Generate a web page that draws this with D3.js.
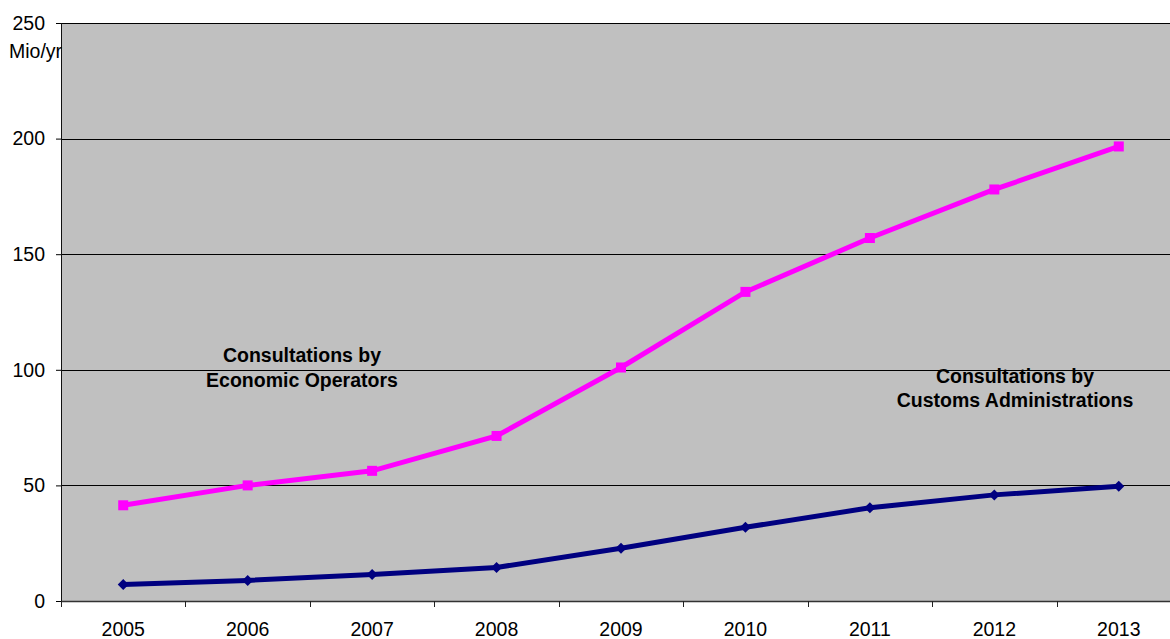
<!DOCTYPE html>
<html>
<head>
<meta charset="utf-8">
<script src="https://cdn.jsdelivr.net/npm/d3@7"></script>
<style>
  body { margin: 0; background: #fff; }
  text { font-family: "Liberation Sans", Arial, sans-serif; }
</style>
</head>
<body>
<svg id="chart"></svg>
<script>
var years = ["2005", "2006", "2007", "2008", "2009", "2010", "2011", "2012", "2013"];
var economicOperators = [41.4, 50.0, 56.3, 71.4, 101.0, 133.7, 157.0, 178.0, 196.6];
var customsAdmins = [7.1, 8.9, 11.5, 14.5, 22.8, 31.9, 40.3, 45.9, 49.6];
var yTicks = [0, 50, 100, 150, 200, 250];

var margin = {top: 23, right: 0, bottom: 38, left: 61},
    width = 1120,
    height = 639 - margin.top - margin.bottom;

var svg = d3.select("#chart")
  .attr("width", 1170)
  .attr("height", 639);

var g = svg.append("g")
  .attr("transform", "translate(" + margin.left + "," + margin.top + ")");

var x = d3.scaleBand().domain(years).range([0, width]);
var y = d3.scaleLinear().domain([0, 250]).range([height, 0]);

// plot background
g.append("rect")
  .attr("x", 0.5).attr("y", 0.5)
  .attr("width", width)
  .attr("height", height)
  .attr("fill", "#c0c0c0");

// gridlines
g.selectAll(".grid")
  .data(yTicks.filter(function(d) { return d > 0; }))
  .enter().append("line")
  .attr("x1", 0).attr("x2", width)
  .attr("y1", function(d) { return Math.round(y(d)) + 0.5; })
  .attr("y2", function(d) { return Math.round(y(d)) + 0.5; })
  .attr("stroke", "#000")
  .attr("stroke-width", 1);

// y axis
var yAxis = g.append("g")
  .call(d3.axisLeft(y).tickValues(yTicks).tickSize(5).tickPadding(11));
yAxis.select(".domain").attr("stroke", "#111");
yAxis.selectAll("text").style("font-size", "19.5px").attr("fill", "#000");

// x axis with ticks at band edges
var xAxis = g.append("g")
  .attr("transform", "translate(0," + height + ")")
  .call(d3.axisBottom(x).tickSize(0).tickPadding(21));
xAxis.select(".domain").attr("stroke", "#333").attr("stroke-width", 1.5);
xAxis.selectAll("text").style("font-size", "19.5px").attr("fill", "#000");
xAxis.selectAll(".edge")
  .data(d3.range(years.length + 1))
  .enter().append("line")
  .attr("x1", function(i) { return Math.round(i * x.step()) + 0.5; })
  .attr("x2", function(i) { return Math.round(i * x.step()) + 0.5; })
  .attr("y1", 0).attr("y2", 6)
  .attr("stroke", "#222");

// unit label
svg.append("text")
  .attr("x", 9).attr("y", 57.5)
  .style("font-size", "19.5px")
  .text("Mio/yr");

var line = d3.line()
  .x(function(d, i) { return x(years[i]) + x.bandwidth() / 2; })
  .y(function(d) { return y(d); });

// economic operators
g.append("path")
  .datum(economicOperators)
  .attr("fill", "none")
  .attr("stroke", "#ff00ff")
  .attr("stroke-width", 5)
  .attr("d", line);
g.selectAll(".sq")
  .data(economicOperators)
  .enter().append("rect")
  .attr("x", function(d, i) { return x(years[i]) + x.bandwidth() / 2 - 5; })
  .attr("y", function(d) { return y(d) - 5; })
  .attr("width", 10).attr("height", 10)
  .attr("fill", "#ff00ff");

// customs administrations
g.append("path")
  .datum(customsAdmins)
  .attr("fill", "none")
  .attr("stroke", "#000080")
  .attr("stroke-width", 5)
  .attr("d", line);
g.selectAll(".dia")
  .data(customsAdmins)
  .enter().append("path")
  .attr("transform", function(d, i) {
    return "translate(" + (x(years[i]) + x.bandwidth() / 2) + "," + y(d) + ")";
  })
  .attr("d", "M0,-5.5L5.5,0L0,5.5L-5.5,0Z")
  .attr("fill", "#000080");

// annotations
function label(cx, lines, top, gap) {
  svg.append("g").selectAll("text")
    .data(lines)
    .enter().append("text")
    .attr("x", cx)
    .attr("y", function(d, i) { return top + i * gap; })
    .attr("text-anchor", "middle")
    .style("font-size", "19.5px")
    .style("font-weight", "bold")
    .text(function(d) { return d; });
}
label(302, ["Consultations by", "Economic Operators"], 362, 25);
label(1015, ["Consultations by", "Customs Administrations"], 383, 24);
</script>
</body>
</html>
